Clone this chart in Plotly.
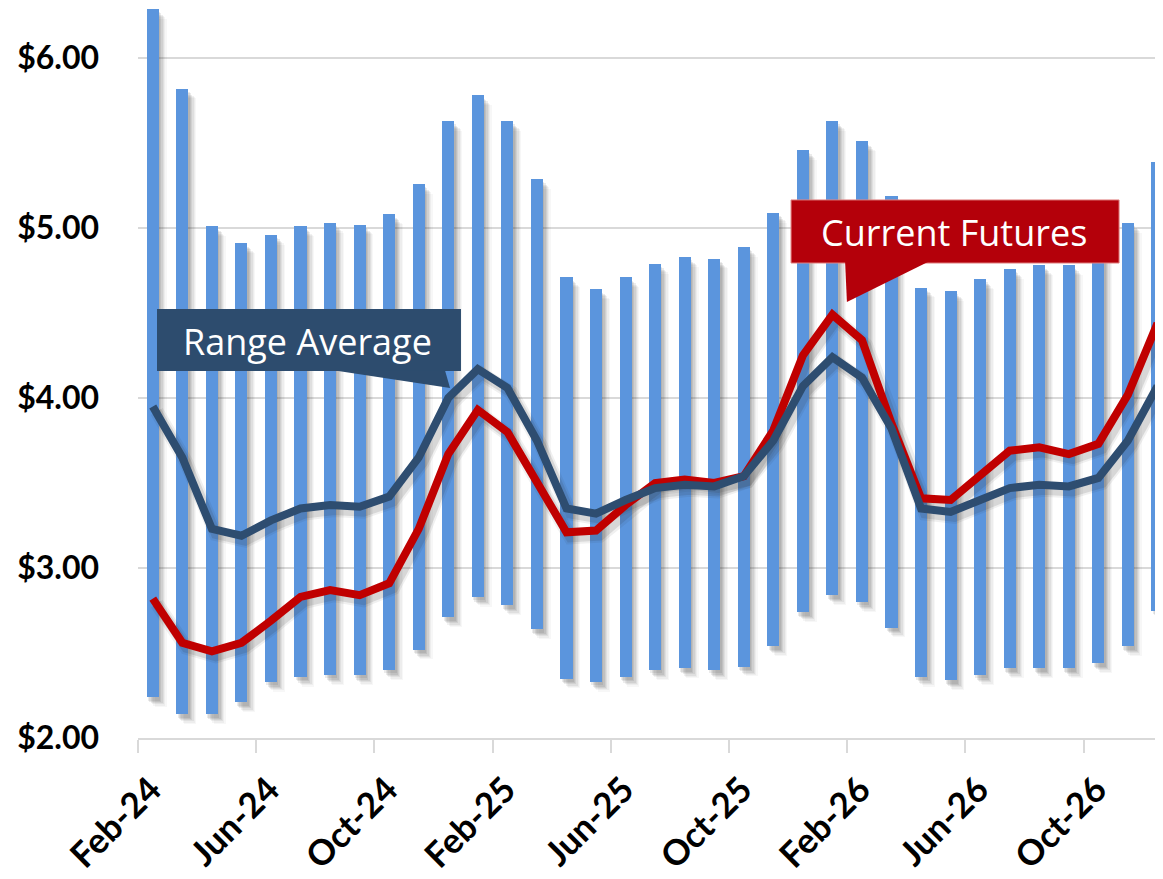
import numpy as np
import plotly.graph_objects as go

# ---- data ----
months = ["Feb-24", "Mar-24", "Apr-24", "May-24", "Jun-24", "Jul-24", "Aug-24", "Sep-24",
          "Oct-24", "Nov-24", "Dec-24", "Jan-25", "Feb-25", "Mar-25", "Apr-25", "May-25",
          "Jun-25", "Jul-25", "Aug-25", "Sep-25", "Oct-25", "Nov-25", "Dec-25", "Jan-26",
          "Feb-26", "Mar-26", "Apr-26", "May-26", "Jun-26", "Jul-26", "Aug-26", "Sep-26",
          "Oct-26", "Nov-26", "Dec-26"]

range_high = [6.29, 5.82, 5.01, 4.91, 4.96, 5.01, 5.03, 5.02, 5.08, 5.26,
              5.63, 5.78, 5.63, 5.29, 4.71, 4.64, 4.71, 4.79, 4.83, 4.82,
              4.89, 5.09, 5.46, 5.63, 5.51, 5.19, 4.65, 4.63, 4.70, 4.76,
              4.78, 4.78, 4.88, 5.03, 5.39]
range_low = [2.24, 2.14, 2.14, 2.21, 2.33, 2.36, 2.37, 2.37, 2.40, 2.52,
             2.71, 2.83, 2.78, 2.64, 2.35, 2.33, 2.36, 2.40, 2.41, 2.40,
             2.42, 2.54, 2.74, 2.84, 2.80, 2.65, 2.36, 2.34, 2.37, 2.41,
             2.41, 2.41, 2.44, 2.54, 2.75]
range_avg = [3.95, 3.65, 3.23, 3.19, 3.28, 3.35, 3.37, 3.36, 3.42, 3.65,
             4.00, 4.17, 4.06, 3.75, 3.35, 3.32, 3.40, 3.47, 3.49, 3.48,
             3.54, 3.75, 4.07, 4.24, 4.12, 3.82, 3.35, 3.33, 3.40, 3.47,
             3.49, 3.48, 3.53, 3.75, 4.07]
current_futures = [2.82, 2.56, 2.51, 2.56, 2.69, 2.83, 2.87, 2.84, 2.91, 3.23,
                   3.67, 3.93, 3.80, 3.50, 3.21, 3.22, 3.37, 3.50, 3.52, 3.50,
                   3.54, 3.81, 4.25, 4.49, 4.34, 3.85, 3.41, 3.40, 3.55, 3.69,
                   3.71, 3.67, 3.73, 4.02, 4.44]
y_ticks = [2, 3, 4, 5, 6]

# ---- styling ----
BAR = "#5B95DD"
AVG = "#2E4D70"
FUT = "#C00000"
GRID = "#D9D9D9"
PX_X = 29.55   # pixels per month
PX_Y = 170.0   # pixels per dollar

n = len(months)
xc = np.arange(n) + 0.5
low = np.array(range_low)
high = np.array(range_high)
bw = 0.41

fig = go.Figure()

# bar shadows (layered for blur)
for k, op in [(1, 0.10), (2, 0.10), (3, 0.09), (4, 0.07), (5, 0.05), (6, 0.04)]:
    dx = k * 1.3 / PX_X
    dy = k * 1.3 / PX_Y
    fig.add_trace(go.Bar(
        x=xc, y=high - low, base=low - dy - 0.012,
        width=bw, offset=-bw / 2 + dx,
        marker=dict(color="rgba(60,60,60,%.2f)" % op, line=dict(width=0)),
        hoverinfo="skip", showlegend=False))

fig.add_trace(go.Bar(
    x=xc, y=high - low, base=low, width=bw,
    marker=dict(color=BAR, line=dict(width=0)),
    name="Range", showlegend=False))

# line shadows
for arr in (current_futures, range_avg):
    for w, op in [(14, 0.07), (10, 0.12)]:
        fig.add_trace(go.Scatter(
            x=xc + 4 / PX_X, y=np.array(arr) - 5 / PX_Y, mode="lines",
            line=dict(color="rgba(40,40,40,%.2f)" % op, width=w),
            hoverinfo="skip", showlegend=False))

fig.add_trace(go.Scatter(x=xc, y=current_futures, mode="lines",
                         line=dict(color=FUT, width=8), name="Current Futures",
                         showlegend=False))
fig.add_trace(go.Scatter(x=xc, y=range_avg, mode="lines",
                         line=dict(color=AVG, width=8), name="Range Average",
                         showlegend=False))

# callouts
fig.add_shape(type="rect", xref="x", yref="y", x0=0.643, x1=10.93, y0=4.159, y1=4.524,
              fillcolor="#2D4C6E", line=dict(width=0), layer="above")
fig.add_shape(type="path", xref="x", yref="y",
              path="M 6.667 4.162 L 10.39 4.162 L 10.56 4.059 Z",
              fillcolor="#2D4C6E", line=dict(width=0), layer="above")
fig.add_annotation(x=5.75, y=4.335, xref="x", yref="y", text="Range Average",
                   showarrow=False, font=dict(family="Open Sans", size=36, color="white"))

fig.add_shape(type="rect", xref="x", yref="y", x0=22.10, x1=33.20, y0=4.794, y1=5.165,
              fillcolor="#B4000A", line=dict(width=1, color="#E08080"), layer="above")
fig.add_shape(type="path", xref="x", yref="y",
              path="M 23.93 4.80 L 26.73 4.80 L 23.99 4.565 Z",
              fillcolor="#B4000A", line=dict(width=0), layer="above")
fig.add_annotation(x=27.62, y=4.975, xref="x", yref="y", text="Current Futures",
                   showarrow=False, font=dict(family="Open Sans", size=36, color="white"))

tick_idx = list(range(0, n, 4))
fig.update_layout(
    width=1155, height=871,
    margin=dict(l=130, r=0, t=0, b=141),
    paper_bgcolor="white", plot_bgcolor="white",
    barmode="overlay", bargap=0,
    xaxis=dict(range=[0, 1025 / PX_X], tickvals=tick_idx,
               ticktext=[months[i] for i in tick_idx], tickangle=-45,
               showgrid=False, zeroline=False, showline=True, linecolor=GRID, linewidth=2,
               ticks="outside", ticklen=13, tickwidth=2, tickcolor=GRID,
               ticklabelshift=13, ticklabelstandoff=2, automargin=False,
               tickfont=dict(family="Lato", size=35, color="black", weight="bold")),
    yaxis=dict(range=[2, 2 + 730 / PX_Y], tickvals=y_ticks, tickformat="$.2f",
               showgrid=True, gridcolor=GRID, gridwidth=2, zeroline=False,
               showline=False, ticks="", ticklabelstandoff=38, automargin=False,
               tickfont=dict(family="Lato", size=32, color="black", weight="bold")),
)

fig.write_html("out.html")
